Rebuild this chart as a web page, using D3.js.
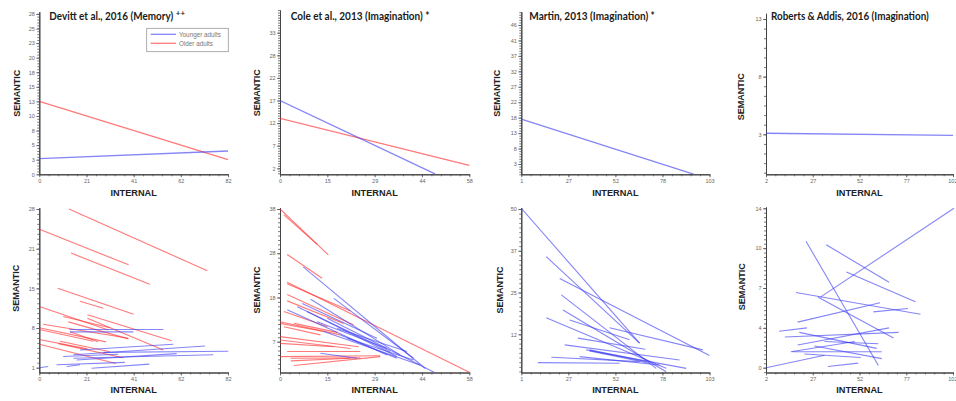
<!DOCTYPE html>
<html>
<head>
<meta charset="utf-8">
<script src="https://cdn.jsdelivr.net/npm/d3@7"></script>
<style>
  body { margin: 0; background: #fff; }
  svg { display: block; }
</style>
</head>
<body>
<svg id="chart" width="956" height="401"></svg>
<script>
// segments are [internal start, semantic start, internal end, semantic end]

// Devitt et al., 2016 (Memory)
var devittTopYounger = [[0, 2.74, 82, 4.07]];
var devittTopOlder = [[0, 12.73, 82, 2.55]];
var devittBottomOlder = [
    [12.9, 28.0, 73.0, 17.5], [0.3, 24.5, 38.8, 18.5], [13.8, 20.5, 48.0, 15.2],
    [8.0, 14.5, 41.0, 10.1], [17.7, 12.3, 27.8, 11.1], [0, 11.4, 30.0, 7.4],
    [10.4, 9.7, 30.7, 7.8], [20.9, 10.0, 57.5, 5.6], [20.9, 9.4, 53.9, 4.0],
    [1.7, 8.4, 38.7, 6.0], [0, 7.8, 29.0, 5.4], [0, 7.5, 23.5, 5.5],
    [9.0, 5.5, 30.7, 3.7], [0, 5.8, 20.9, 4.2], [0, 5.0, 33.3, 1.7],
    [8.3, 5.1, 36.5, 2.7], [12.6, 8.8, 38.7, 5.9], [13.3, 7.1, 25.6, 5.4]
];
var devittBottomYounger = [
    [13.0, 7.5, 53.9, 7.5], [13.3, 7.1, 40.9, 7.1], [17.7, 4.0, 58.2, 5.0],
    [14.8, 3.2, 72.0, 4.7], [27.8, 3.6, 82.1, 3.8], [14.8, 2.6, 75.6, 3.2],
    [16.2, 2.3, 59.7, 3.4], [7.5, 1.5, 37.2, 1.9], [11.9, 1.2, 17.7, 1.5],
    [22.7, 0.9, 47.8, 1.6], [0, 1.0, 3.9, 1.2], [10.4, 2.9, 34.3, 3.3]
];
var devittX = [0, 20.5, 41, 61.5, 82];
var devittXLabels = ["0", "21", "41", "62", "82"];
var devittTopY = [0, 2.55, 5.09, 7.64, 10.18, 12.73, 15.27, 17.82, 20.36, 22.91, 25.45, 28];
var devittTopYLabels = ["0", "3", "5", "8", "10", "13", "15", "18", "20", "23", "25", "28"];
var devittBottomY = [1, 7.75, 14.5, 21.25, 28];
var devittBottomYLabels = ["1", "8", "15", "21", "28"];

// Cole et al., 2013 (Imagination)
var coleTopYounger = [[0, 17.2, 47.5, 0.3]];
var coleTopOlder = [[0, 13.1, 58, 2.3]];
var coleBottomOlder = [
    [0, 38.4, 14.8, 27.6], [1.2, 37.0, 11.4, 30.1], [2.2, 27.7, 12.9, 22.1],
    [2.2, 21.2, 58, 0.0], [2.2, 20.8, 21.6, 14.4], [2.2, 18.3, 22.6, 11.1],
    [2.2, 16.8, 19.5, 11.5], [1.2, 14.3, 14.5, 10.7], [0, 11.9, 18.5, 8.8],
    [0, 11.5, 13.4, 9.6], [4.3, 11.5, 17.5, 9.4], [1.2, 10.7, 12.4, 8.8],
    [0, 8.4, 24.1, 6.0], [0, 7.6, 21.6, 5.6], [0, 6.8, 16.5, 6.0],
    [2.2, 4.9, 24.6, 4.9], [0, 3.7, 30.7, 3.9], [3.3, 3.3, 24.6, 3.4],
    [3.3, 2.7, 21.6, 3.3], [4.3, 1.6, 30.7, 3.7]
];
var coleBottomYounger = [
    [7.1, 24.8, 44.5, 0.9], [14.5, 12.7, 47.5, -0.1], [16.5, 17.4, 40.9, 3.3],
    [9.4, 17.2, 36.8, 4.1], [5.3, 15.4, 33.8, 4.9], [2.2, 14.7, 32.8, 4.1],
    [6.8, 16.2, 29.7, 8.0], [8.3, 14.3, 35.8, 3.7], [13.4, 9.6, 42.9, 1.7],
    [17.5, 10.3, 38.9, 4.9], [18.5, 8.8, 35.8, 3.3], [12.4, 4.5, 23.6, 3.3],
    [20.6, 8.0, 40.9, 2.9], [11.4, 11.9, 32.8, 5.6]
];
var coleX = [0, 14.5, 29, 43.5, 58];
var coleXLabels = ["0", "15", "29", "44", "58"];
var coleTopY = [1.6, 6.8, 12, 17.2, 22.4, 27.6, 32.8];
var coleTopYLabels = ["2", "7", "12", "17", "22", "28", "33"];
var coleBottomY = [7.2, 17.6, 28, 38.4];
var coleBottomYLabels = ["7", "18", "28", "38"];

// Martin, 2013 (Imagination)
var martinTopYounger = [[1, 17.1, 94.3, 0.2]];
var martinBottomYounger = [
    [1.0, 50.0, 65.1, 9.8], [14.5, 35.6, 65.1, 9.8], [21.8, 29.1, 103.0, 6.1],
    [22.7, 24.2, 74.1, 2.3], [23.6, 19.7, 79.5, 1.3], [14.5, 17.4, 79.5, 2.3],
    [27.2, 16.7, 59.7, 10.8], [31.7, 11.3, 68.2, 8.0], [48.8, 14.4, 99.4, 7.8],
    [24.5, 9.3, 86.8, 4.8], [36.2, 7.8, 90.4, 2.3], [17.3, 5.6, 65.1, 4.3],
    [10.0, 4.0, 54.3, 3.8], [32.6, 5.8, 75.9, 3.3], [38.0, 7.8, 68.7, 4.3],
    [38.0, 7.5, 70.5, 3.8]
];
var martinX = [1, 26.5, 52, 77.5, 103];
var martinXLabels = ["1", "27", "52", "78", "103"];
var martinTopY = [3.3, 8.05, 12.8, 17.55, 22.3, 27.05, 31.8, 36.55, 41.3, 46.05];
var martinTopYLabels = ["3", "8", "13", "18", "22", "27", "32", "37", "41", "46"];
var martinBottomY = [12.45, 24.9, 37.35, 49.8];
var martinBottomYLabels = ["12", "25", "37", "50"];

// Roberts & Addis, 2016 (Imagination)
var robertsTopYounger = [[2, 3.09, 102, 2.9]];
var robertsBottomYounger = [
    [31.1, 6.2, 102.5, 14.0], [23.4, 11.1, 62.1, 0.2], [34.2, 10.8, 67.8, 7.5],
    [45.0, 8.4, 81.9, 5.8], [18.0, 6.6, 84.6, 4.7], [29.7, 6.2, 70.2, 2.6],
    [18.9, 4.0, 63.0, 5.7], [59.4, 4.9, 77.9, 5.2], [9.0, 3.2, 23.9, 3.5],
    [12.1, 2.7, 72.9, 3.1], [18.9, 2.0, 67.8, 3.5], [19.8, 3.1, 61.2, 1.7],
    [16.2, 1.4, 63.9, 1.4], [22.5, 1.2, 52.7, 0.9], [35.1, 0.1, 51.3, 0.4],
    [2.0, 0.0, 33.3, 1.1], [27.9, 1.9, 63.9, 0.8], [33.3, 2.3, 62.1, 2.1],
    [15.3, 1.4, 49.5, 2.3]
];
var robertsX = [2, 27, 52, 77, 102];
var robertsXLabels = ["2", "27", "52", "77", "102"];
var robertsTopY = [3, 8, 13];
var robertsTopYLabels = ["3", "8", "13"];
var robertsBottomY = [0, 3.5, 7, 10.5, 14];
var robertsBottomYLabels = ["0", "4", "7", "10", "14"];

var legendLabels = ["Younger adults", "Older adults"];

var BLUE = "#3a3af2", RED = "#ff2626";
var rowAxisY = [174.3, 372.5];
var rowInternalY = [195.7, 392.7];

// layout of the 8 small plots
var panels = [
    {row: 0, title: "Devitt et al., 2016 (Memory)", sup: "++", titleX: 49.3, titleW: 124,
     xPx: [39.3, 228], yPx: [174.3, 14], yTop: 11.7, ySub: 5, semX: 16.7, semY: 93.3,
     xTicks: devittX, xLabels: devittXLabels, yTicks: devittTopY, yLabels: devittTopYLabels,
     younger: devittTopYounger, older: devittTopOlder, legend: true},
    {row: 0, title: "Cole et al., 2013 (Imagination) *", titleX: 290.7, titleW: 139,
     xPx: [280, 469.3], yPx: [168.3, 32.7], yTop: 10, ySub: 9, semX: 257.3, semY: 92.8,
     xTicks: coleX, xLabels: coleXLabels, yTicks: coleTopY, yLabels: coleTopYLabels,
     younger: coleTopYounger, older: coleTopOlder},
    {row: 0, title: "Martin, 2013 (Imagination) *", titleX: 529.3, titleW: 125.7,
     xPx: [521.3, 709.5], yPx: [164, 25], yTop: 11.7, ySub: 6, semX: 497, semY: 93.3,
     xTicks: martinX, xLabels: martinXLabels, yTicks: martinTopY, yLabels: martinTopYLabels,
     younger: martinTopYounger, older: []},
    {row: 0, title: "Roberts & Addis, 2016 (Imagination)", titleX: 771, titleW: 158,
     xPx: [766, 953], yPx: [134.3, 19], yTop: 13.3, ySub: 6, semX: 741, semY: 96.7,
     xTicks: robertsX, xLabels: robertsXLabels, yTicks: robertsTopY, yLabels: robertsTopYLabels,
     younger: robertsTopYounger, older: []},
    {row: 1, xPx: [39.3, 228], yPx: [367.7, 209], yTop: 207.7, ySub: 8, semX: 16.3, semY: 288.3,
     xTicks: devittX, xLabels: devittXLabels, yTicks: devittBottomY, yLabels: devittBottomYLabels,
     younger: devittBottomYounger, older: devittBottomOlder},
    {row: 1, xPx: [280, 469.3], yPx: [341.7, 209], yTop: 207.7, ySub: 10, semX: 257, semY: 290,
     xTicks: coleX, xLabels: coleXLabels, yTicks: coleBottomY, yLabels: coleBottomYLabels,
     younger: coleBottomYounger, older: coleBottomOlder},
    {row: 1, xPx: [521.3, 709.5], yPx: [334.3, 209], yTop: 207.7, ySub: 9, semX: 500.3, semY: 290,
     xTicks: martinX, xLabels: martinXLabels, yTicks: martinBottomY, yLabels: martinBottomYLabels,
     younger: martinBottomYounger, older: []},
    {row: 1, xPx: [766, 953], yPx: [367.7, 208.3], yTop: 207, ySub: 9, semX: 741.7, semY: 286.7,
     xTicks: robertsX, xLabels: robertsXLabels, yTicks: robertsBottomY, yLabels: robertsBottomYLabels,
     younger: robertsBottomYounger, older: []}
];

var svg = d3.select("#chart");

function minorTicks(ticks, sub, lo, hi) {
    var step = (ticks[1] - ticks[0]) / sub, out = [];
    var v = ticks[0];
    while (v - step >= lo) v -= step;
    for (; v <= hi + 1e-9; v += step) out.push(v);
    return out;
}

function styleAxis(sel) {
    sel.selectAll("path.domain").attr("stroke", "#444").attr("stroke-width", 1);
    sel.selectAll(".tick line").attr("stroke", "#555").attr("stroke-width", 0.8);
    sel.selectAll(".tick text")
        .attr("fill", "#666")
        .style("font-family", "'Liberation Sans', Arial, sans-serif")
        .style("font-size", "5.5px");
}

function drawSegments(g, data, cls, color, x, y, width) {
    g.selectAll("line." + cls).data(data).enter().append("line")
        .attr("class", cls)
        .attr("x1", function (d) { return x(d[0]); })
        .attr("y1", function (d) { return y(d[1]); })
        .attr("x2", function (d) { return x(d[2]); })
        .attr("y2", function (d) { return y(d[3]); })
        .attr("stroke", color)
        .attr("stroke-opacity", 0.62)
        .attr("stroke-width", width);
}

panels.forEach(function (p, idx) {
    var axisY = rowAxisY[p.row];
    var nx = p.xTicks.length, ny = p.yTicks.length;

    var x = d3.scaleLinear().domain([p.xTicks[0], p.xTicks[nx - 1]]).range(p.xPx);
    var anchor = d3.scaleLinear().domain([p.yTicks[0], p.yTicks[ny - 1]]).range(p.yPx);
    var y = d3.scaleLinear().domain([anchor.invert(axisY), anchor.invert(p.yTop)]).range([axisY, p.yTop]);

    var g = svg.append("g").attr("class", "panel");

    svg.append("clipPath").attr("id", "clip" + idx).append("rect")
        .attr("x", p.xPx[0]).attr("y", p.yTop)
        .attr("width", p.xPx[1] - p.xPx[0] + 3).attr("height", axisY - p.yTop);

    // minor ticks first, major ticks + labels over them
    var yMinor = minorTicks(p.yTicks, p.ySub, y.domain()[0], y.domain()[1]);
    var xMinor = minorTicks(p.xTicks, 5, p.xTicks[0], p.xTicks[nx - 1]);

    g.append("g").attr("transform", "translate(" + p.xPx[0] + ",0)")
        .call(d3.axisLeft(y).tickValues(yMinor).tickFormat("").tickSize(2).tickSizeOuter(0))
        .call(styleAxis);
    g.append("g").attr("transform", "translate(0," + axisY + ")")
        .call(d3.axisBottom(x).tickValues(xMinor).tickFormat("").tickSize(2).tickSizeOuter(0))
        .call(styleAxis);

    g.append("g").attr("transform", "translate(" + p.xPx[0] + ",0)")
        .call(d3.axisLeft(y).tickValues(p.yTicks)
            .tickFormat(function (d, i) { return p.yLabels[i]; })
            .tickSize(3).tickSizeOuter(0).tickPadding(1.5))
        .call(styleAxis);
    var xg = g.append("g").attr("transform", "translate(0," + axisY + ")")
        .call(d3.axisBottom(x).tickValues(p.xTicks)
            .tickFormat(function (d, i) { return p.xLabels[i]; })
            .tickSize(3).tickSizeOuter(0).tickPadding(1.5))
        .call(styleAxis);
    // keep the right-most label inside the window
    xg.selectAll(".tick text").filter(function (d) { return x(d) > 948; })
        .attr("text-anchor", "end").attr("dx", "4px");

    var plot = g.append("g").attr("clip-path", "url(#clip" + idx + ")");
    var w = p.row === 0 ? 1.3 : 1.1;
    drawSegments(plot, p.older, "older", RED, x, y, w);
    drawSegments(plot, p.younger, "younger", BLUE, x, y, w);

    // axis titles
    g.append("text")
        .attr("x", (p.xPx[0] + p.xPx[1]) / 2)
        .attr("y", rowInternalY[p.row])
        .attr("text-anchor", "middle")
        .style("font-family", "'Liberation Sans', Arial, sans-serif")
        .style("font-weight", "bold")
        .style("font-size", "9.2px")
        .attr("fill", "#222")
        .text("INTERNAL");
    g.append("text")
        .attr("transform", "translate(" + p.semX + "," + p.semY + ") rotate(-90)")
        .attr("text-anchor", "middle")
        .attr("dominant-baseline", "central")
        .style("font-family", "'Liberation Sans', Arial, sans-serif")
        .style("font-weight", "bold")
        .style("font-size", "9px")
        .attr("fill", "#222")
        .text("SEMANTIC");

    if (p.title) {
        // the original font is narrow, so squeeze the title horizontally to its width
        var t = g.append("text")
            .style("font-family", "Lato, 'Open Sans', sans-serif")
            .style("font-weight", "bold")
            .style("font-size", "11px")
            .attr("fill", "#1a1a1a")
            .text(p.title);
        var natural = t.node().getComputedTextLength();
        t.attr("transform", "translate(" + p.titleX + ",20) scale(" + (p.titleW / natural) + ",1)");
        if (p.sup) {
            g.append("text")
                .attr("x", p.titleX + p.titleW + 2.5).attr("y", 16)
                .style("font-family", "Lato, sans-serif")
                .style("font-weight", "bold")
                .style("font-size", "8px")
                .attr("fill", "#1a1a1a")
                .text(p.sup);
        }
    }

    if (p.legend) {
        var lg = g.append("g").attr("class", "legend");
        lg.append("rect")
            .attr("x", 146.7).attr("y", 28.3).attr("width", 81.6).attr("height", 23.4)
            .attr("fill", "#fff").attr("stroke", "#999").attr("stroke-width", 0.8);
        [BLUE, RED].forEach(function (c, i) {
            var ly = 34.3 + i * 9;
            lg.append("line")
                .attr("x1", 150.7).attr("x2", 176).attr("y1", ly).attr("y2", ly)
                .attr("stroke", c).attr("stroke-opacity", 0.62).attr("stroke-width", 1.3);
            lg.append("text")
                .attr("x", 179).attr("y", ly + 2.2)
                .style("font-family", "'Liberation Sans', Arial, sans-serif")
                .style("font-size", "6.3px")
                .attr("fill", "#777")
                .text(legendLabels[i]);
        });
    }
});
</script>
</body>
</html>
